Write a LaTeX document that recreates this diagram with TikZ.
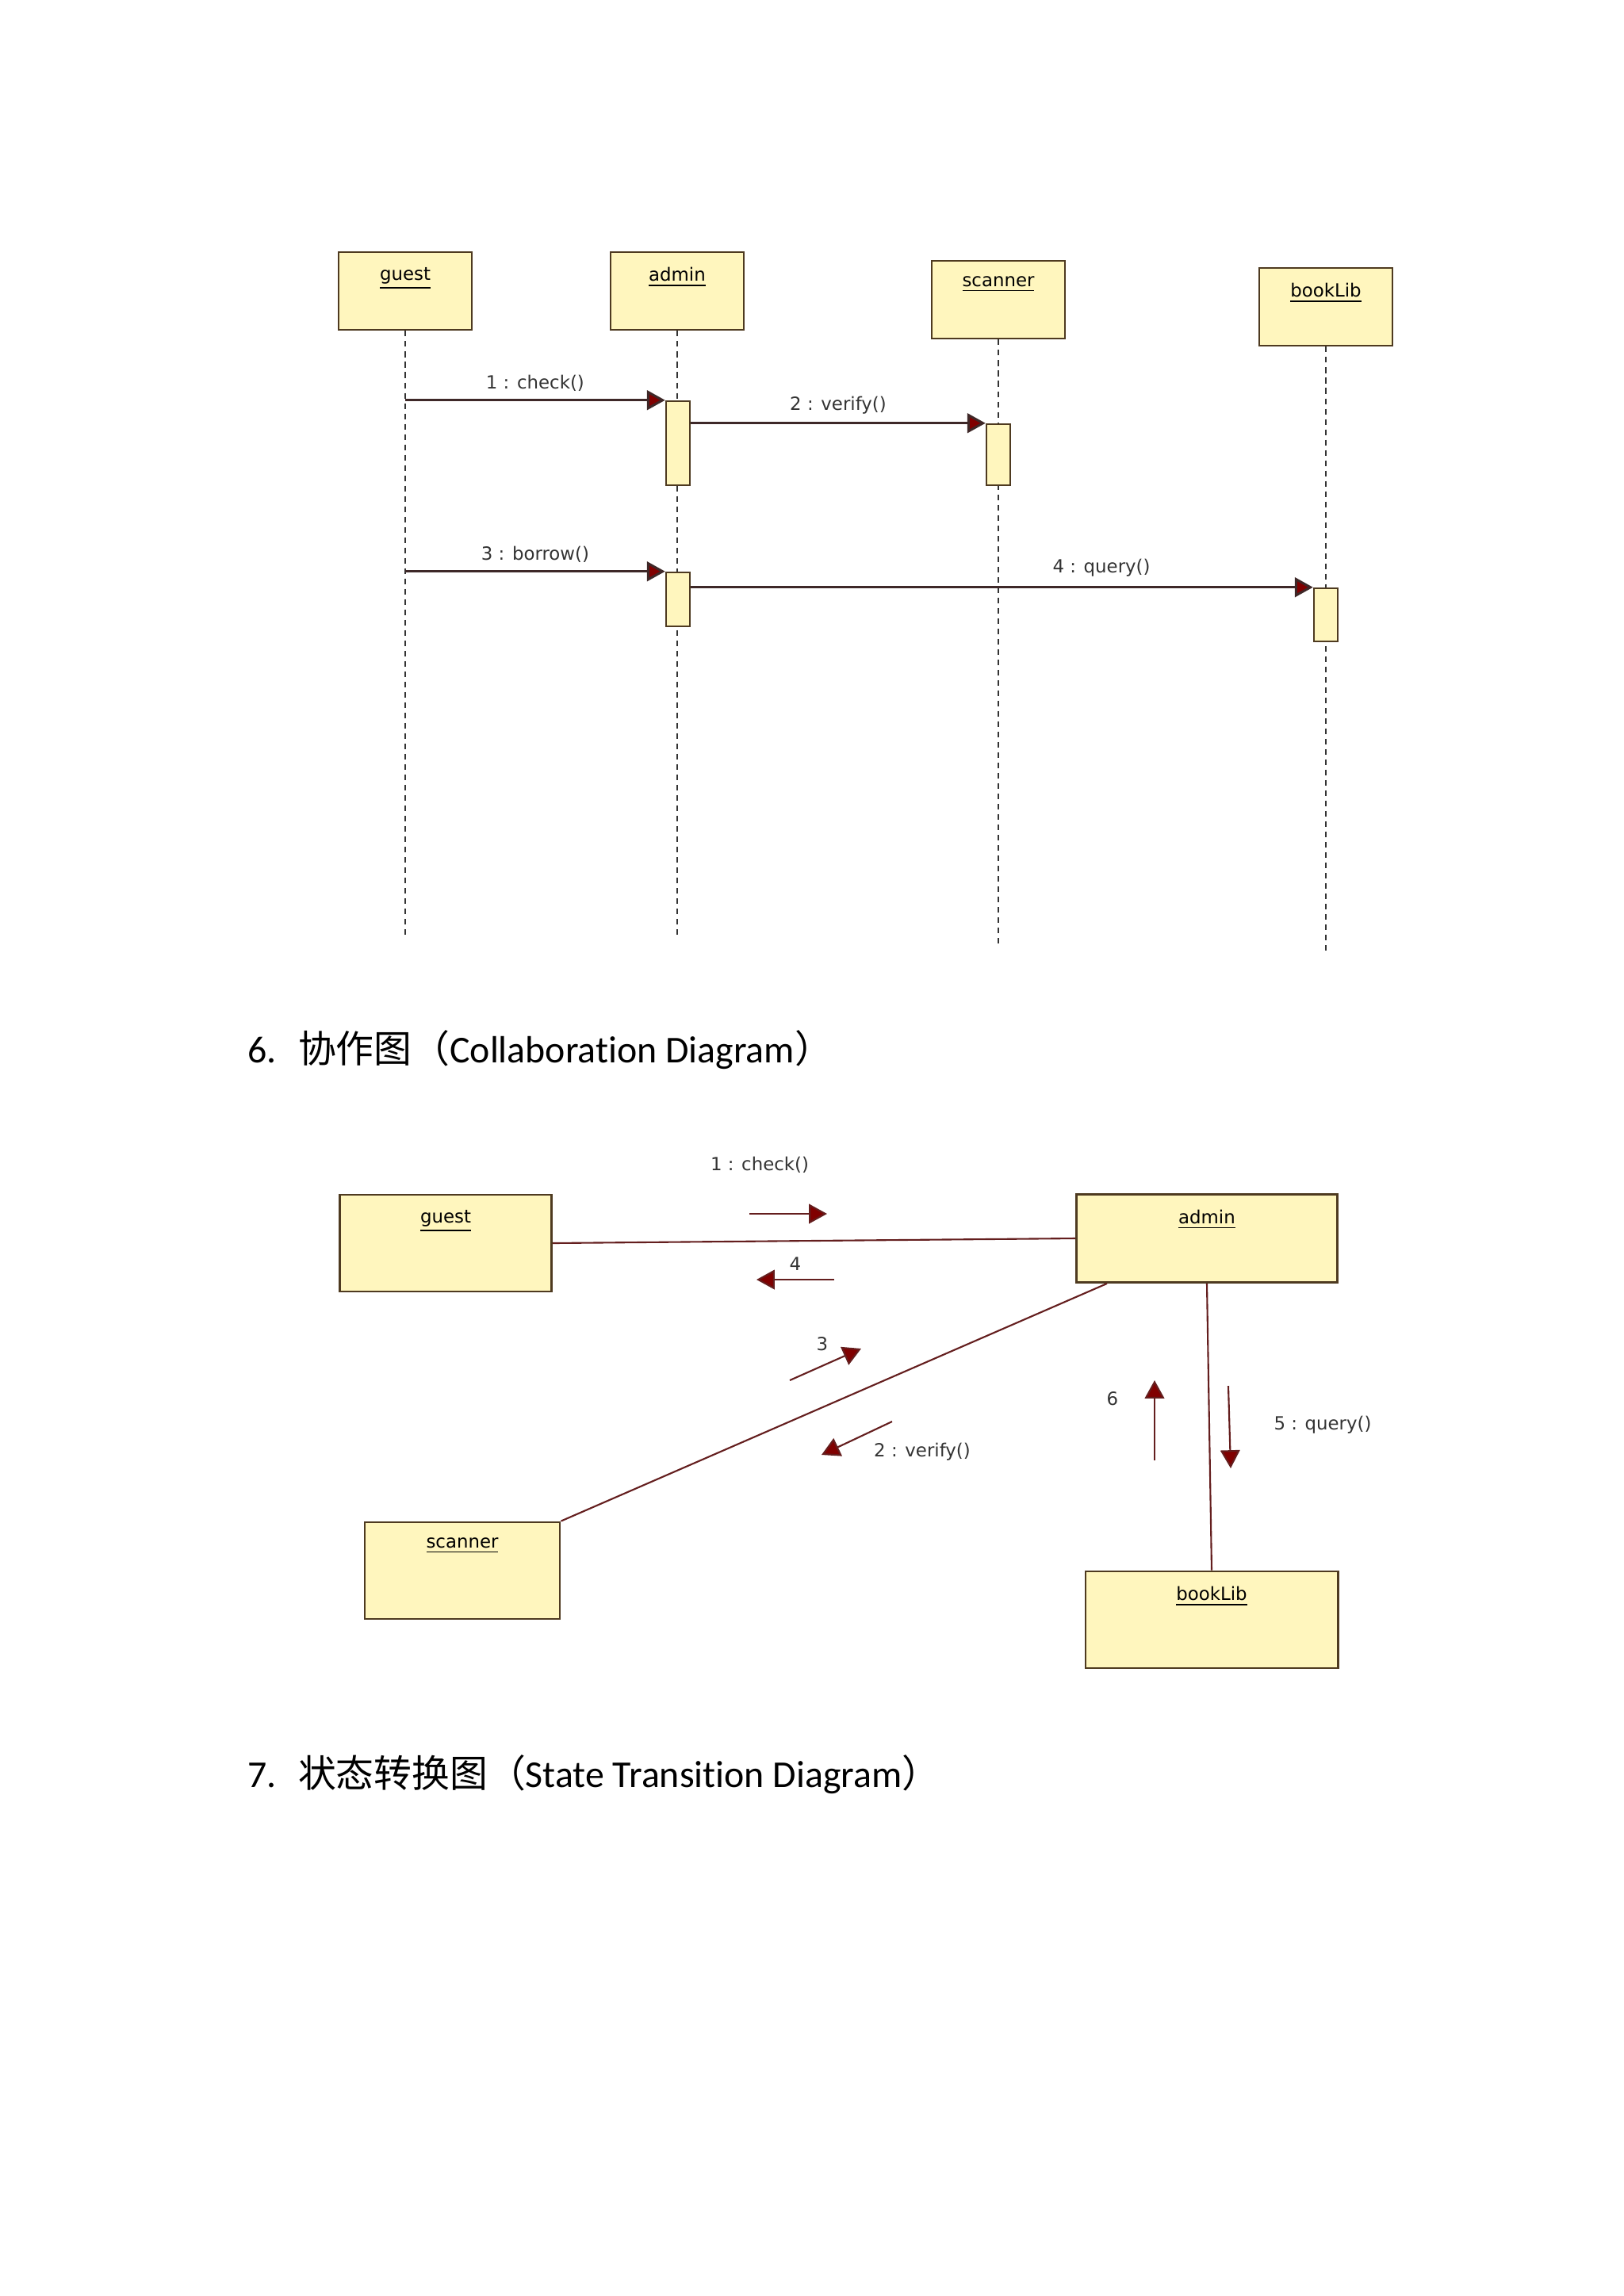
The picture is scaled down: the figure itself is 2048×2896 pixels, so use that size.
\documentclass[tikz,border=0pt]{standalone}
\usepackage{fontspec}
\setmainfont[Ligatures=NoCommon]{Carlito}
\newfontfamily\cjk{Noto Sans CJK SC}
\newfontfamily\umlfont{DejaVu Sans}
\usetikzlibrary{arrows.meta,positioning,calc}
\definecolor{umlfill}{RGB}{255,246,190}
\definecolor{umlline}{RGB}{78,58,32}
\definecolor{msgline}{RGB}{62,40,40}
\definecolor{tipred}{RGB}{128,0,0}
\definecolor{linkred}{RGB}{100,30,30}
\newcommand{\umlsize}{\fontsize{6.5pt}{8pt}\selectfont}
\tikzset{
  obj/.style={draw=umlline,fill=umlfill,line width=0.8pt,inner sep=0pt},
  objname/.style={anchor=north,yshift=-0.2cm,font=\umlfont\umlsize,inner sep=0pt},
  % sequence diagram
  life/.style={draw=black!80,dash pattern=on 2pt off 1.7pt,line width=0.6pt},
  act/.style={draw=umlline,fill=umlfill,line width=0.7pt,minimum width=0.3cm,inner sep=0pt},
  msg/.style={-{Triangle[length=6.5pt,width=7pt,fill=tipred]},draw=msgline,line width=0.85pt},
  msglbl/.style={font=\umlfont\umlsize,inner sep=0pt,text=black!80},
  % collaboration diagram
  link/.style={draw=linkred,line width=0.6pt},
  hint/.style={-{Triangle[length=6.5pt,width=7pt,fill=tipred]},draw=linkred,line width=0.6pt},
  head/.style={anchor=base west,inner sep=0pt,font=\fontsize{13.6pt}{16pt}\selectfont},
}
\begin{document}
\begin{tikzpicture}[x=0.01cm,y=-0.01cm]
  \useasboundingbox[fill=white] (0,0) rectangle (2048,2896);

  % sequence diagram
  \foreach \n/\x/\y in {guest/511/367,admin/854/367,scanner/1259/378,bookLib/1672/387}{
    \node[obj,minimum width=1.68cm,minimum height=0.98cm,
      label={[objname]north:\underline{\n}}] (s\n) at (\x,\y) {};
    \draw[life] (s\n.south) -- ++(0,762);
  }
  \node[act,minimum height=1.06cm] (act1) at (855,559) {};
  \node[act,minimum height=0.77cm] (act2) at (1259,573.5) {};
  \node[act,minimum height=0.68cm] (act3) at (855,756) {};
  \node[act,minimum height=0.67cm] (act4) at (1672,775.5) {};

  \draw[msg] (sguest |- act1.north) -- node[msglbl,above=0.1cm] {1 : check()} (act1.north west);
  \draw[msg] (act1.east |- act2.north) -- node[msglbl,above=0.1cm] {2 : verify()} (act2.north west);
  \draw[msg] (sguest |- act3.north) -- node[msglbl,above=0.1cm] {3 : borrow()} (act3.north west);
  \draw[msg] (act3.east |- act4.north) -- node[msglbl,above=0.12cm,pos=0.66] {4 : query()} (act4.north west);

  \node[head] (h6) at (312,1340) {6.\hspace{0.27cm}{\cjk 协作图（}Collaboration Diagram{\cjk ）}};

  % collaboration diagram
  \node[obj,minimum width=2.67cm,minimum height=1.22cm,
    label={[objname]north:\underline{guest}}] (cguest) at (562,1568) {};
  \node[obj,minimum width=3.29cm,minimum height=1.11cm,
    label={[objname]north:\underline{admin}}] (cadmin) at (1522,1562) {};
  \node[obj,minimum width=2.46cm,minimum height=1.22cm,
    label={[objname]north:\underline{scanner}}] (cscanner) at (583,1981) {};
  \node[obj,minimum width=3.18cm,minimum height=1.22cm,
    label={[objname]north:\underline{bookLib}}] (cbookLib) at (1528,2043) {};

  \draw[link] (cguest.east) -- (cadmin.west);
  \draw[link] (cscanner.north east) -- ($(cadmin.south west)+(40,0)$);
  \draw[link] (cadmin.south) -- (cbookLib.north);

  \draw[hint] (945,1531) -- (1043,1531);
  \node[msglbl] (c1) at (958,1469) {1 : check()};
  \draw[hint] (1052,1614) -- (954,1614);
  \node[msglbl] (c4) at (1003,1594) {4};
  \draw[hint] (996,1741) -- (1086,1701);
  \node[msglbl] (c3) at (1037,1695) {3};
  \draw[hint] (1125,1793) -- (1036,1835);
  \node[msglbl] (c2) at (1163,1831) {2 : verify()};
  \draw[hint] (1456,1842) -- (1456,1741);
  \node[msglbl] (c6) at (1403,1764) {6};
  \draw[hint] (1549,1748) -- (1552,1852);
  \node[msglbl] (c5) at (1668,1797) {5 : query()};

  \node[head] (h7) at (312,2254) {7.\hspace{0.27cm}{\cjk 状态转换图（}State Transition Diagram{\cjk ）}};
\end{tikzpicture}
\end{document}
